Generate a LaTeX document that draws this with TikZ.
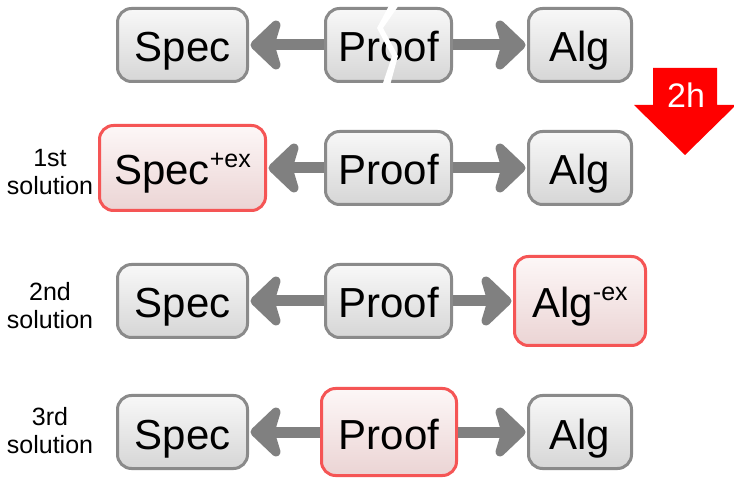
\documentclass[tikz,border=0pt]{standalone}
\usepackage{fontspec}
\setmainfont{Liberation Sans}
\definecolor{gborder}{HTML}{8A8A8A}
\definecolor{gtop}{HTML}{F8F8F8}
\definecolor{gbot}{HTML}{D6D6D6}
\definecolor{rborder}{HTML}{F55555}
\definecolor{rtop}{HTML}{FDF7F7}
\definecolor{rbot}{HTML}{EBD4D4}
\definecolor{agrey}{HTML}{808080}
\tikzset{
  box/.style={rounded corners=14pt, line width=3pt, inner sep=0pt, font=\fontsize{42}{48}\selectfont, text height=42pt, text depth=8pt},
  greybox/.style={box, draw=gborder, top color=gtop, bottom color=gbot, minimum height=73pt},
  redbox/.style={box, draw=rborder, top color=rtop, bottom color=rbot},
  conn/.style={draw=agrey, line width=11pt, shorten >=20pt},
  headl/.pic={\filldraw[agrey, line width=9pt, line join=round, line cap=round] (6,0) -- (27,-20) -- (21,0) -- (27,20) -- cycle;},
  headr/.pic={\filldraw[agrey, line width=9pt, line join=round, line cap=round] (-6,0) -- (-27,-20) -- (-21,0) -- (-27,20) -- cycle;},
  lbl/.style={font=\fontsize{25}{28}\selectfont, align=center}
}
\newcommand{\supx}[1]{\raisebox{17pt}{\fontsize{25}{25}\selectfont #1}}
\begin{document}
\begin{tikzpicture}[x=1pt,y=-1pt]
\useasboundingbox[fill=white] (0,0) rectangle (734,478);

% row 1
\node[greybox, minimum width=130pt] (s1) at (182.5,45) {Spec};
\node[greybox, minimum width=126pt] (p1) at (388.5,45) {Proof};
\node[greybox, minimum width=103pt] (a1) at (580,45) {Alg};
\draw[conn] (p1) -- (s1);
\draw[conn] (p1) -- (a1);
\path (s1.east) pic {headl} (a1.west) pic {headr};
\fill[white] (391,2) -- (401,2) -- (383,28) -- (398,56) -- (389,89) -- (381,89) -- (392,56) -- (377,28) -- cycle;

% 2h arrow
\fill[red] (653,68) -- (717,68) -- (717,105) -- (736,105) -- (685,155) -- (634,105) -- (653,105) -- cycle;
\node[font=\fontsize{34}{36}\selectfont, text=white] (h) at (686,95) {2h};

% row 2
\node[lbl] (l2) at (50,172) {1st\\solution};
\node[redbox, minimum width=166pt, minimum height=85pt] (s2) at (182.5,168) {Spec\supx{+ex}};
\node[greybox, minimum width=126pt] (p2) at (388.5,168) {Proof};
\node[greybox, minimum width=103pt] (a2) at (580,168) {Alg};
\draw[conn] (p2) -- (s2);
\draw[conn] (p2) -- (a2);
\path (s2.east) pic {headl} (a2.west) pic {headr};

% row 3
\node[lbl] (l3) at (50,306) {2nd\\solution};
\node[greybox, minimum width=130pt] (s3) at (182.5,301) {Spec};
\node[greybox, minimum width=126pt] (p3) at (388.5,301) {Proof};
\node[redbox, minimum width=131pt, minimum height=89pt] (a3) at (580,301) {Alg\supx{-ex}};
\draw[conn] (p3) -- (s3);
\draw[conn] (p3) -- (a3);
\path (s3.east) pic {headl} (a3.west) pic {headr};

% row 4
\node[lbl] (l4) at (50,431) {3rd\\solution};
\node[greybox, minimum width=130pt] (s4) at (182.5,432) {Spec};
\node[redbox, minimum width=135pt, minimum height=87pt] (p4) at (389,432) {Proof};
\node[greybox, minimum width=103pt] (a4) at (580,432) {Alg};
\draw[conn] (p4) -- (s4);
\draw[conn] (p4) -- (a4);
\path (s4.east) pic {headl} (a4.west) pic {headr};
\end{tikzpicture}
\end{document}
